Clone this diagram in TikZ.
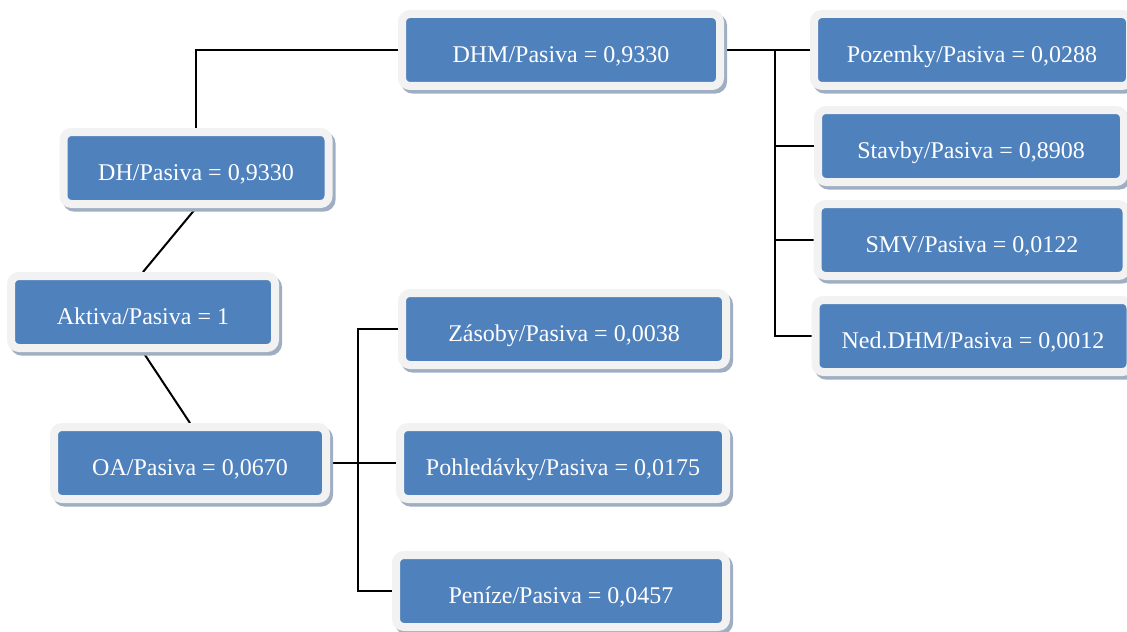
\documentclass[tikz,border=0pt]{standalone}
\usepackage{fontspec}
\setmainfont{Liberation Serif}
\usetikzlibrary{positioning,backgrounds}

\definecolor{boxblue}{HTML}{4F81BD}
\definecolor{framegray}{HTML}{F2F2F2}
\definecolor{shadowgray}{HTML}{9FAEC2}

\tikzset{
  ratio/.style={draw=framegray, fill=boxblue, line width=4pt, rounded corners=4pt,
    text=white, font=\fontsize{12}{14}\selectfont, minimum height=36pt,
    text height=12pt, text depth=0pt, inner sep=0pt,
    preaction={draw=shadowgray, fill=shadowgray, transform canvas={shift={(1.5pt,-1.8pt)}}}},
  link/.style={line width=1pt}
}

\begin{document}
\begin{tikzpicture}[x=0.5pt, y=-0.5pt]
            \useasboundingbox (0,0) rectangle (1127,631);
            \node[ratio, minimum width=132pt] (aktiva) at (143,312) {Aktiva/Pasiva = 1};
            \node[ratio, minimum width=132.5pt] (dh) at (196,168) {DH/Pasiva = 0,9330};
            \node[ratio, minimum width=136pt] (oa) at (190,463) {OA/Pasiva = 0,0670};
            \node[ratio, minimum width=159pt] (dhm) at (561,50) {DHM/Pasiva = 0,9330};
            \node[ratio, minimum width=158pt] (pozemky) at (972,50) {Pozemky/Pasiva = 0,0288};
            \node[ratio, minimum width=153pt] (stavby) at (971,146) {Stavby/Pasiva = 0,8908};
            \node[ratio, minimum width=154.5pt] (smv) at (972,240) {SMV/Pasiva = 0,0122};
            \node[ratio, minimum width=157.5pt] (ned) at (973,336) {Ned.DHM/Pasiva = 0,0012};
            \node[ratio, minimum width=162pt] (zasoby) at (564,329) {Zásoby/Pasiva = 0,0038};
            \node[ratio, minimum width=163pt] (pohledavky) at (563,463) {Pohledávky/Pasiva = 0,0175};
            \node[ratio, minimum width=165pt] (penize) at (561,591) {Peníze/Pasiva = 0,0457};
            \coordinate (dhmbus) at (775,50);
            \coordinate (oabus) at (358,463);
            \begin{scope}[on background layer]
            \draw[link] (aktiva.north) -- (dh.south);
            \draw[link] (aktiva.south) -- (oa.north);
            \draw[link] (dh.north) |- (dhm.west);
            % DHM branches
            \draw[link] (dhm.east) -- (pozemky.west);
            \draw[link] (dhmbus) |- (ned.west);
            \draw[link] (dhmbus |- stavby.west) -- (stavby.west);
            \draw[link] (dhmbus |- smv.west) -- (smv.west);
            % OA branches
            \draw[link] (oa.east) -- (pohledavky.west);
            \draw[link] (zasoby.west) -| (oabus) |- (penize.west);
            \end{scope}
\end{tikzpicture}
\end{document}
